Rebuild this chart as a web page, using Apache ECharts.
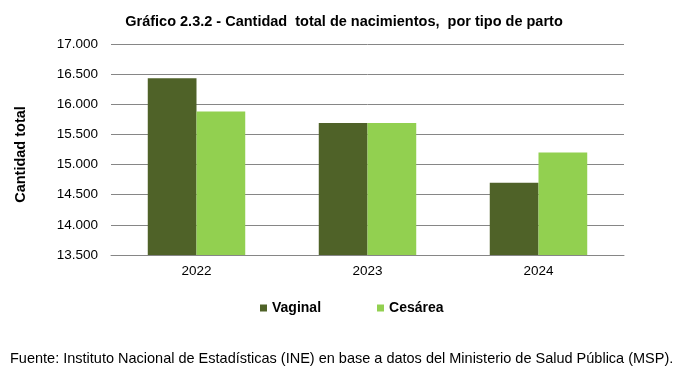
<!DOCTYPE html>
<html><head><meta charset="utf-8">
<script src="https://cdn.jsdelivr.net/npm/echarts@6/dist/echarts.min.js"></script>
<style>html,body{margin:0;padding:0;background:#fff}#c{width:683px;height:374px}</style>
</head><body><div id="c"></div>
<script>
var categories = ['2022', '2023', '2024'];
var vaginal = [16430, 15690, 14700];
var cesarea = [15880, 15690, 15200];
var seriesNames = ['Vaginal', 'Cesárea'];
var titleText = 'Gráfico 2.3.2 - Cantidad  total de nacimientos,  por tipo de parto';
var yAxisName = 'Cantidad total';
var sourceText = 'Fuente: Instituto Nacional de Estadísticas (INE) en base a datos del Ministerio de Salud Pública (MSP).';

var chart = echarts.init(document.getElementById('c'), null, {renderer: 'canvas'});
var font = 'Arial, "Liberation Sans", sans-serif';
chart.setOption({
  animation: false,
  textStyle: {fontFamily: font},
  title: [{
    text: titleText, left: 339, textAlign: 'center', top: 9,
    textStyle: {fontSize: 14.5, fontWeight: 'bold', color: '#000', fontFamily: font}
  }, {
    text: sourceText, left: 5, top: 346,
    textStyle: {fontSize: 14.5, fontWeight: 'normal', color: '#000', fontFamily: font}
  }],
  legend: {
    data: seriesNames, left: 255, top: 296, itemWidth: 7, itemHeight: 7, itemGap: 56,
    icon: 'rect',
    textStyle: {fontSize: 14, fontWeight: 'bold', color: '#000', fontFamily: font}
  },
  grid: {left: 111, right: 59, top: 44, bottom: 119, containLabel: false},
  xAxis: {
    type: 'category', data: categories,
    axisLine: {lineStyle: {color: '#868686'}},
    axisTick: {show: false},
    axisLabel: {fontSize: 13.5, color: '#000', margin: 9}
  },
  yAxis: {
    type: 'value', min: 13500, max: 17000, interval: 500,
    name: yAxisName, nameLocation: 'middle', nameGap: 83, nameRotate: 90,
    nameTextStyle: {fontSize: 14.5, fontWeight: 'bold', color: '#000', padding: [0, 10, 0, 0]},
    axisLine: {show: false}, axisTick: {show: false},
    splitLine: {lineStyle: {color: '#868686'}},
    axisLabel: {fontSize: 13.5, color: '#000', margin: 13,
      formatter: function (v) { return String(v).replace(/\B(?=(\d{3})+(?!\d))/g, '.'); }
    }
  },
  series: [{
    name: seriesNames[0], type: 'bar', data: vaginal,
    itemStyle: {color: '#4F6228'}, barGap: '0%', barCategoryGap: '43%'
  }, {
    name: seriesNames[1], type: 'bar', data: cesarea,
    itemStyle: {color: '#92D050'}, barGap: '0%', barCategoryGap: '43%'
  }]
});
</script></body></html>
